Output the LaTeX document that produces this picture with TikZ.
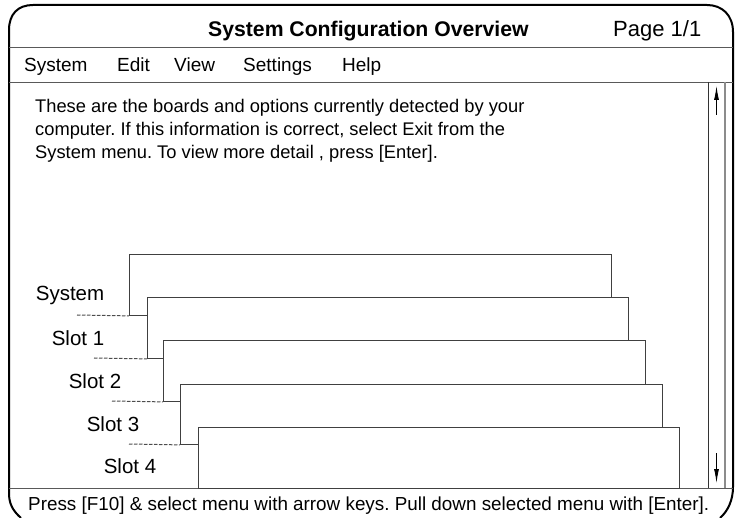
\documentclass[tikz,border=0pt]{standalone}
\usepackage{fontspec}
\setmainfont{Liberation Sans}
\usetikzlibrary{arrows.meta}
\begin{document}
\frenchspacing
\begin{tikzpicture}[x=1pt,y=-1pt,
  frame/.style={line width=2pt,black},
  sep/.style={line width=0.9pt,black!65},
  slotbox/.style={draw=black!75,line width=0.9pt,fill=white,anchor=north west,inner sep=0pt},
  leader/.style={draw=black!70,line width=1pt,dash pattern=on 3.5pt off 1.5pt},
  txt/.style={font=\fontsize{18.3}{22}\selectfont,inner sep=0pt},
  menutxt/.style={font=\fontsize{19}{22}\selectfont,inner sep=0pt,anchor=base west},
  labtxt/.style={font=\fontsize{20.5}{22}\selectfont,inner sep=0pt},
  scrollarrow/.style={line width=0.9pt,-{Latex[length=14pt,width=5pt]}}]
\useasboundingbox (0,0) rectangle (736,518);
\begin{scope}
\clip (0,0) rectangle (736,518);
% outer frame
\draw[frame] (21,518) .. controls (12,510) and (9,503) .. (9,493) -- (9,30)
  .. controls (9,14) and (18,5) .. (33,5) -- (707,5)
  .. controls (722,5) and (733,15) .. (733,32) -- (733,487)
  .. controls (733,500) and (728,511) .. (720,518);
\end{scope}
% separators
\coordinate (t1) at (9,47); \coordinate (t2) at (733,47);
\coordinate (m1) at (9,82); \coordinate (m2) at (733,82);
\coordinate (s1) at (9,488); \coordinate (s2) at (733,488);
\draw[sep] (t1) -- (t2);
\draw[sep] (m1) -- (m2);
\draw[sep] (s1) -- (s2);
% scrollbar
\coordinate (sa1) at (708,82); \coordinate (sa2) at (708,488);
\coordinate (sb1) at (725,82); \coordinate (sb2) at (725,488);
\draw[sep,black!80] (sa1) -- (sa2);
\draw[line width=1.6pt,black!45] (sb1) -- (sb2);
\coordinate (ua1) at (716.5,115); \coordinate (ua2) at (716.5,86);
\coordinate (da1) at (716.5,453); \coordinate (da2) at (716.5,483);
\draw[scrollarrow] (ua1) -- (ua2);
\draw[scrollarrow] (da1) -- (da2);
% title
\node[inner sep=0pt,font=\fontsize{21.2}{24}\selectfont\bfseries,anchor=base west] (title) at (208,37) {System Configuration Overview};
\node[inner sep=0pt,font=\fontsize{22}{24}\selectfont,anchor=base west] (page) at (613,37) {Page 1/1};
% menu
\node[menutxt] (mSys) at (24,72) {System};
\node[menutxt] (mEdit) at (117,72) {Edit};
\node[menutxt] (mView) at (174,72) {View};
\node[menutxt] (mSet) at (243,72) {Settings};
\node[menutxt] (mHelp) at (342,72) {Help};
% body text
\node[txt,anchor=base west] (l1) at (35,113) {These are the boards and options currently detected by your};
\node[txt,anchor=base west] (l2) at (35,136) {computer. If this information is correct, select Exit from the};
\node[txt,anchor=base west] (l3) at (35,159) {System menu. To view more detail , press [Enter].};
% slot boxes
\node[slotbox,minimum width=482pt,minimum height=61pt] (b1) at (129,254) {};
\node[slotbox,minimum width=481pt,minimum height=61pt] (b2) at (147,297) {};
\node[slotbox,minimum width=482pt,minimum height=61pt] (b3) at (163,340) {};
\node[slotbox,minimum width=482pt,minimum height=60pt] (b4) at (180,384) {};
\node[slotbox,minimum width=481pt,minimum height=61pt] (b5) at (198,427) {};
% leaders
\coordinate (d1) at (77,315);
\coordinate (d2) at (94,358);
\coordinate (d3) at (112,401);
\coordinate (d4) at (129,444);
\draw[leader] (d1) -- (b1.south west);
\draw[leader] (d2) -- (b2.south west);
\draw[leader] (d3) -- (b3.south west);
\draw[leader] (d4) -- (b4.south west);
% labels
\node[labtxt] (lSys) at (70,295) {System};
\node[labtxt] (lS1) at (78,338) {Slot 1};
\node[labtxt] (lS2) at (95,381) {Slot 2};
\node[labtxt] (lS3) at (113,424) {Slot 3};
\node[labtxt] (lS4) at (130,466) {Slot 4};
% status
\node[inner sep=0pt,font=\fontsize{18.85}{22}\selectfont,anchor=base west] (status) at (28,510) {Press [F10] \& select menu with arrow keys. Pull down selected menu with [Enter].};
\end{tikzpicture}
\end{document}
